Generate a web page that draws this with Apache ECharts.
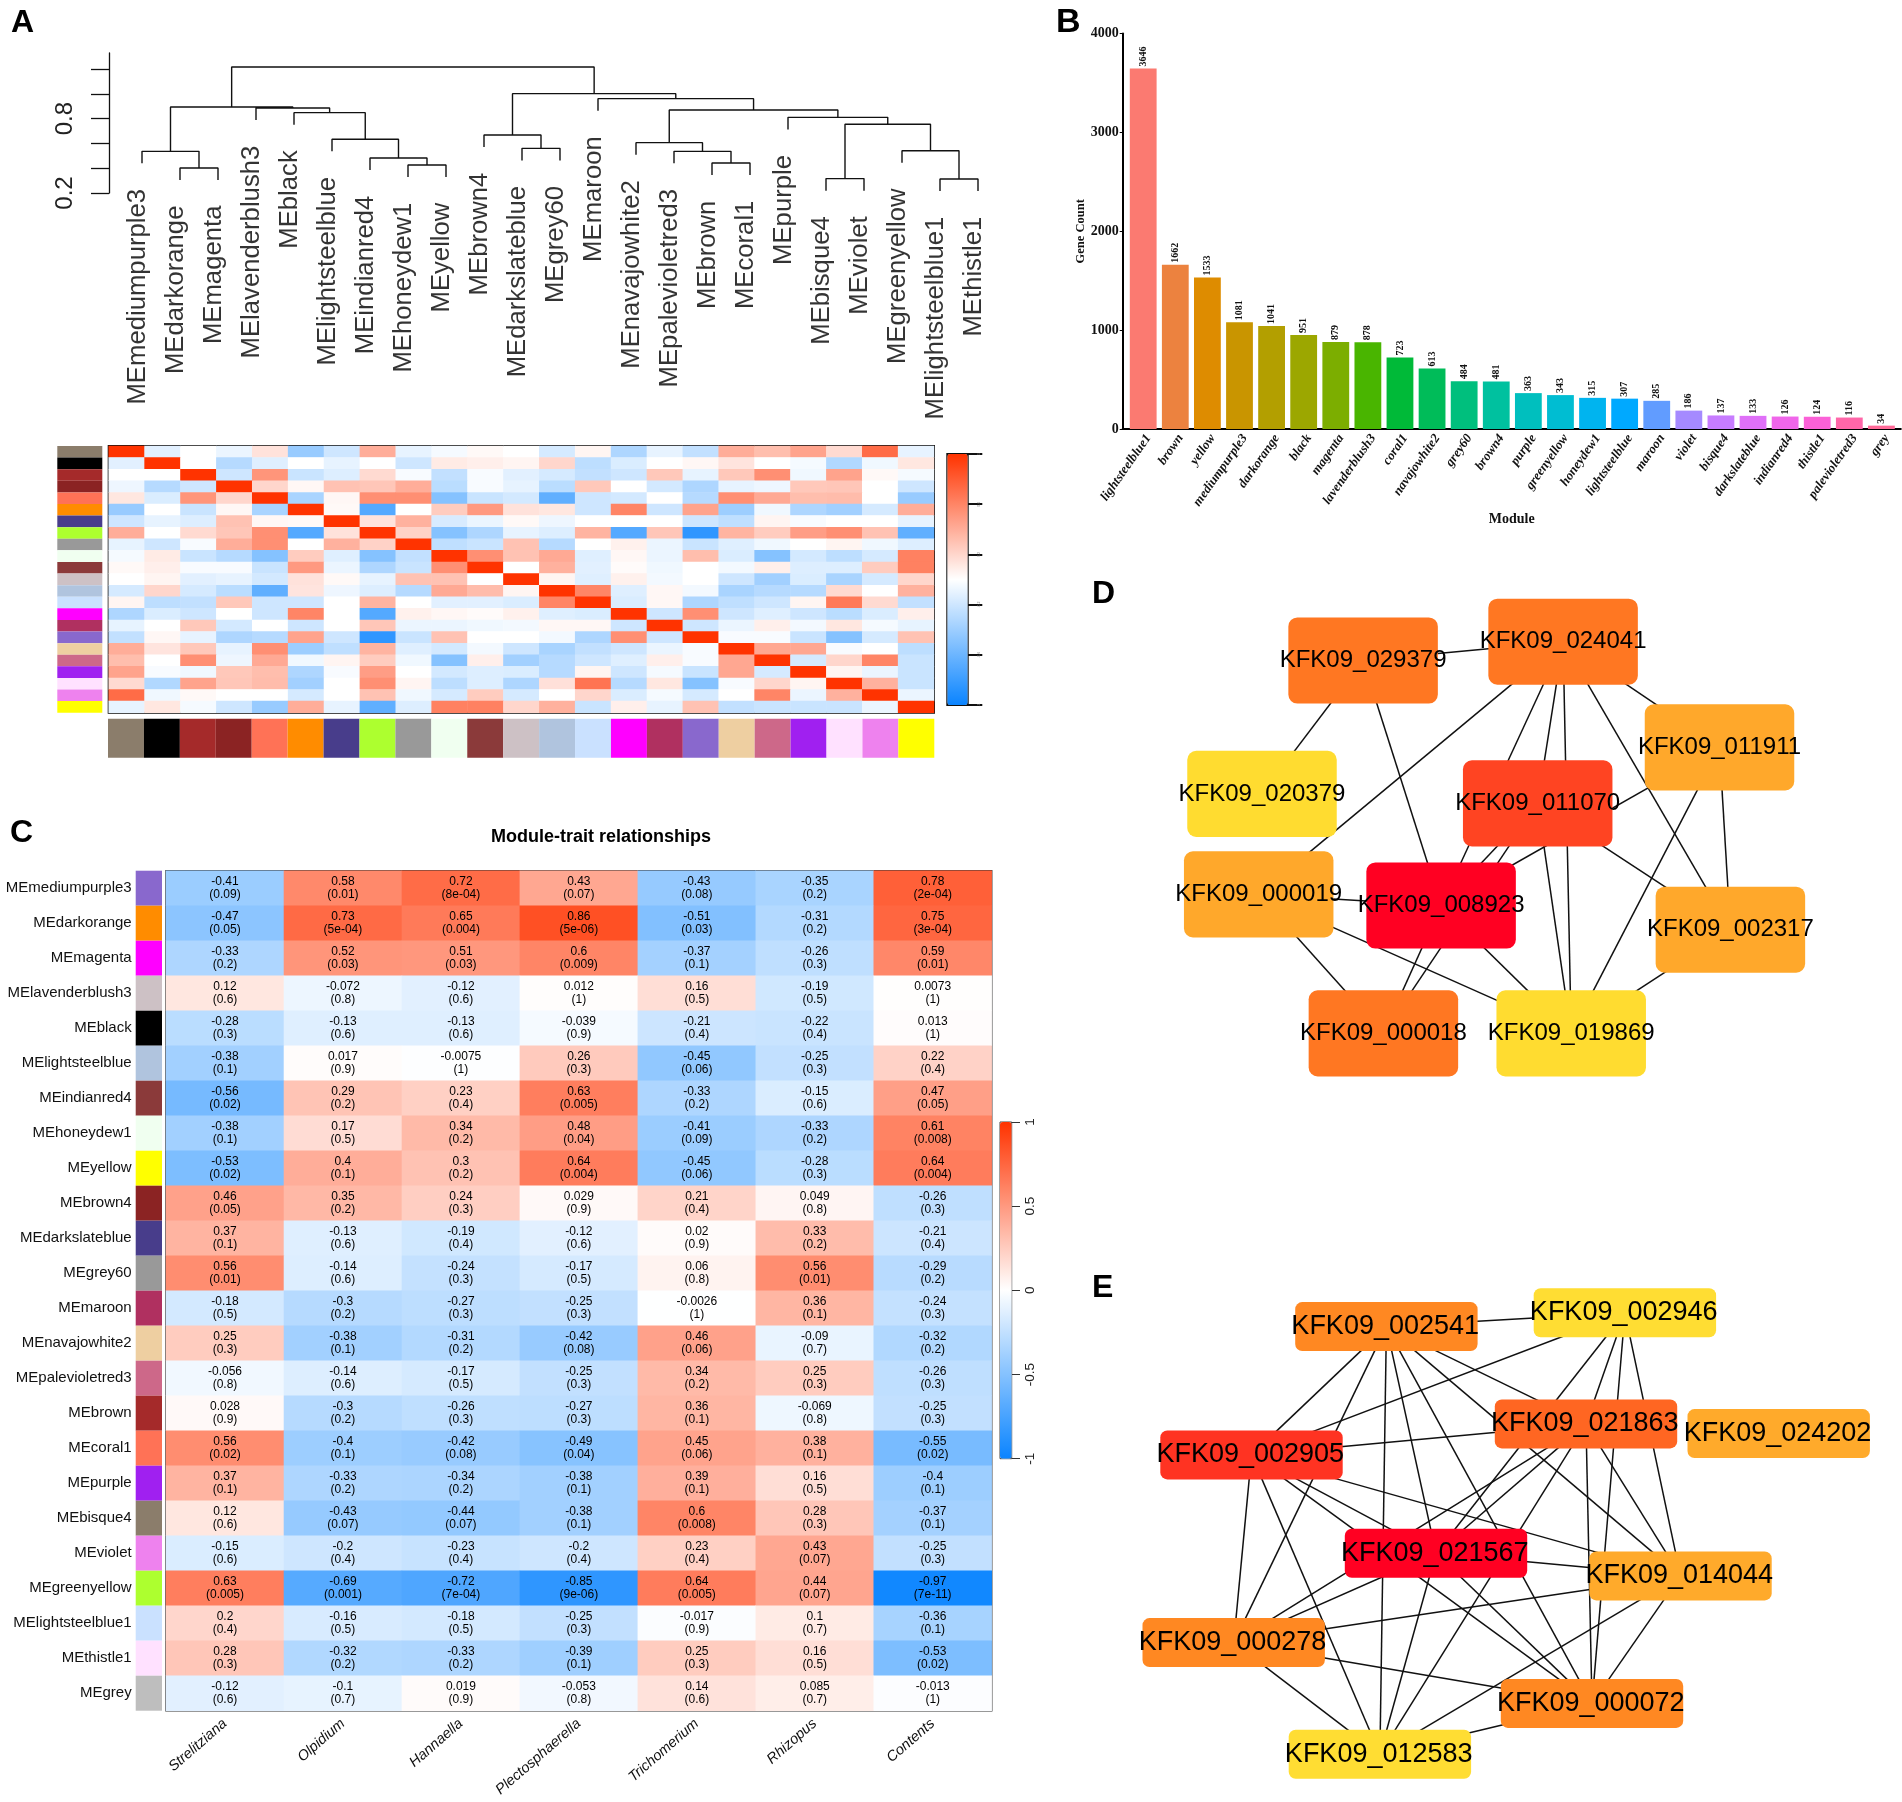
<!DOCTYPE html>
<html><head><meta charset="utf-8">
<style>html,body{margin:0;padding:0;background:#fff}#c{width:1902px;height:1802px}</style>
<script src="https://cdn.jsdelivr.net/npm/echarts@6/dist/echarts.min.js"></script>
</head><body><div id="c"></div>
<script>
// ---------- shared colours of module names
const moduleColor = {bisque4:'#8B7D6B',black:'#000000',brown:'#A52A2A',brown4:'#8B2323',coral1:'#FF7256',darkorange:'#FF8C00',darkslateblue:'#483D8B',greenyellow:'#ADFF2F',grey60:'#999999',honeydew1:'#F0FFF0',indianred4:'#8B3A3A',lavenderblush3:'#CDC1C5',lightsteelblue:'#B0C4DE',lightsteelblue1:'#CAE1FF',magenta:'#FF00FF',maroon:'#B03060',mediumpurple3:'#8968CD',navajowhite2:'#EECFA1',palevioletred3:'#CD6889',purple:'#A020F0',thistle1:'#FFE1FF',violet:'#EE82EE',yellow:'#FFFF00',grey:'#BEBEBE'};
const ramp = ['#0A84FF','#FFFFFF','#FF3300'];

// ---------- Panel A dendrogram
const leaves = ['mediumpurple3','darkorange','magenta','lavenderblush3','black','lightsteelblue','indianred4','honeydew1','yellow','brown4','darkslateblue','grey60','maroon','navajowhite2','palevioletred3','brown','coral1','purple','bisque4','violet','greenyellow','lightsteelblue1','thistle1'];
// [child, child, height]; a number is a leaf index, 'mN' is an earlier merge
const merges = [[1,2,.402],[0,'m0',.536],[7,8,.426],[6,'m2',.482],[5,'m3',.633],[4,'m4',.848],[3,'m5',.885],['m1','m6',.894],[10,11,.56],[9,'m8',.668],[15,16,.442],[14,'m10',.536],[13,'m11',.606],[18,19,.316],[21,22,.313],[20,'m14',.541],['m13','m15',.754],[17,'m16',.81],['m12','m17',.869],[12,'m18',.961],['m9','m19',1.001],['m7','m20',1.216]];
const leafHang = 0.097;
const dendroTicks = [0.2,0.4,0.6,0.8,1.0,1.2];
const dendroLabels = [0.2,0.8];

// ---------- Panel A correlation heatmap (alphabetical modules)
const adjModules = ['bisque4','black','brown','brown4','coral1','darkorange','darkslateblue','greenyellow','grey60','honeydew1','indianred4','lavenderblush3','lightsteelblue','lightsteelblue1','magenta','maroon','mediumpurple3','navajowhite2','palevioletred3','purple','thistle1','violet','yellow'];
const adjacency = [
[1,-.12,0,-.08,.14,-.42,-.2,.4,-.1,-.04,.03,0,-.17,.05,-.33,-.1,-.25,.4,.32,.45,.18,.72,-.1],
[-.12,1,0,-.3,-.13,0,-.1,0,-.2,.1,.08,.05,.2,-.27,-.15,0,.04,.13,0,-.04,-.32,-.06,.12],
[0,0,1,-.2,.52,-.22,-.14,.18,-.03,-.25,-.03,-.12,-.17,-.25,-.2,.27,-.1,.27,.55,-.06,.45,.03,-.04],
[-.07,-.3,-.2,1,.2,.04,.3,.28,.4,-.28,-.03,-.1,-.28,.27,0,-.18,-.33,-.1,-.07,.27,.28,0,-.2],
[.12,-.15,.52,.2,1,-.35,.04,.55,.55,-.5,-.22,-.18,-.65,-.2,-.18,0,-.3,.55,.42,.32,.33,0,-.42],
[-.42,0,-.22,.04,-.35,1,.03,-.7,0,.25,.5,.14,.12,-.2,.6,-.2,.45,-.4,-.06,-.33,-.38,-.17,.4],
[-.2,-.1,-.14,.3,.04,.03,1,.14,.38,-.16,-.08,.03,-.07,0,0,0,-.2,-.26,.05,-.03,0,0,-.1],
[.4,0,.18,.28,.55,-.7,.14,1,.22,-.5,-.33,-.1,-.14,.37,-.7,.28,-.85,.37,.25,.48,.55,.3,-.65],
[-.1,-.2,-.03,.4,.55,0,.38,.22,1,-.26,-.22,.3,-.3,0,.07,-.08,-.22,-.13,-.06,0,.05,-.06,-.14],
[-.04,.1,-.22,-.3,-.5,.25,-.13,-.5,-.25,1,.55,.3,.42,-.13,.04,-.08,.32,-.15,-.5,-.18,-.27,-.17,.62],
[.03,.08,-.03,-.03,-.22,.5,-.08,-.33,-.22,.55,1,0,.38,-.12,.02,-.06,0,-.05,.08,-.14,-.14,.25,.62],
[0,.05,-.12,-.1,-.18,.14,.03,-.1,.3,.3,0,1,.05,-.13,.07,-.05,0,-.2,-.38,-.15,-.35,-.17,.2],
[-.17,.2,-.17,-.28,-.65,.13,-.07,-.14,-.3,.42,.33,.05,1,.6,-.13,.04,-.05,-.35,-.3,-.3,.18,0,.38],
[.05,-.27,-.25,.27,-.2,-.2,0,.37,0,-.12,-.12,-.15,.6,1,-.15,.04,-.33,-.26,-.2,.05,.65,.18,-.25],
[-.33,-.15,-.2,0,-.2,.6,0,-.7,.07,.04,.02,.07,-.13,-.15,1,-.2,.55,-.2,-.13,-.2,-.28,-.15,.08],
[-.1,0,.27,-.18,0,-.2,0,.28,-.08,-.08,-.06,-.05,.04,.04,-.2,1,-.2,-.08,.08,-.05,.12,-.04,-.1],
[-.25,.04,-.1,-.33,-.3,.45,-.2,-.85,-.22,.3,0,0,-.05,-.33,.55,-.2,1,-.03,-.03,-.22,-.5,-.17,.3],
[.4,.13,.27,-.1,.55,-.4,-.26,.37,-.13,-.18,-.05,-.2,-.35,-.25,-.2,-.08,-.03,1,.43,.43,-.03,0,-.27],
[.32,0,.55,-.07,.42,-.06,.05,.25,-.06,-.5,.08,-.38,-.3,-.2,-.13,.08,-.03,.43,1,-.17,.2,.6,-.22],
[.45,-.03,-.06,.27,.32,-.33,-.03,.48,0,-.18,-.14,-.15,-.3,.05,-.2,-.04,-.22,.43,-.17,1,.05,-.08,-.22],
[.18,-.32,.45,.28,.33,-.38,0,.55,.05,-.27,-.14,-.33,.15,.68,-.3,.12,-.5,-.03,.2,.05,1,.38,-.22],
[.72,-.06,.03,0,0,-.17,0,.3,-.06,-.17,.25,-.17,0,.2,-.15,-.04,-.17,0,.6,-.08,.38,1,-.08],
[-.1,.12,-.04,-.2,-.42,.4,-.1,-.65,-.14,.62,.62,.2,.38,-.22,.08,-.1,.3,-.25,-.22,-.22,-.22,-.08,1]];
const adjBarLabels = ['-1','-0.6','-0.2','0.2','0.6','1'];

// ---------- Panel B
const geneModules = ['lightsteelblue1','brown','yellow','mediumpurple3','darkorange','black','magenta','lavenderblush3','coral1','navajowhite2','grey60','brown4','purple','greenyellow','honeydew1','lightsteelblue','maroon','violet','bisque4','darkslateblue','indianred4','thistle1','palevioletred3','grey'];
const geneCounts = [3646,1662,1533,1081,1041,951,879,878,723,613,484,481,363,343,315,307,285,186,137,133,126,124,116,34];
const geneBarColors = ['#FB7A71','#EC823F','#DE8C00','#C99500','#B39F00','#9CA700','#7CAE00','#49B500','#00BA38','#00BC59','#00BF7D','#00C19F','#00BFBE','#00BDD2','#00B4EF','#00A9FF','#619CFF','#A58AFF','#C77CFF','#DF70F8','#F066EA','#FB61D7','#FF66A8','#FF6A98'];

// ---------- Panel C
const traitRows = ['mediumpurple3','darkorange','magenta','lavenderblush3','black','lightsteelblue','indianred4','honeydew1','yellow','brown4','darkslateblue','grey60','maroon','navajowhite2','palevioletred3','brown','coral1','purple','bisque4','violet','greenyellow','lightsteelblue1','thistle1','grey'];
const traits = ['Strelitziana','Olpidium','Hannaella','Plectosphaerella','Trichomerium','Rhizopus','Contents'];
const traitCor = [
[-.41,.58,.72,.43,-.43,-.35,.78],[-.47,.73,.65,.86,-.51,-.31,.75],[-.33,.52,.51,.6,-.37,-.26,.59],[.12,-.072,-.12,.012,.16,-.19,.0073],
[-.28,-.13,-.13,-.039,-.21,-.22,.013],[-.38,.017,-.0075,.26,-.45,-.25,.22],[-.56,.29,.23,.63,-.33,-.15,.47],[-.38,.17,.34,.48,-.41,-.33,.61],
[-.53,.4,.3,.64,-.45,-.28,.64],[.46,.35,.24,.029,.21,.049,-.26],[.37,-.13,-.19,-.12,.02,.33,-.21],[.56,-.14,-.24,-.17,.06,.56,-.29],
[-.18,-.3,-.27,-.25,-.0026,.36,-.24],[.25,-.38,-.31,-.42,.46,-.09,-.32],[-.056,-.14,-.17,-.25,.34,.25,-.26],[.028,-.3,-.26,-.27,.36,-.069,-.25],
[.56,-.4,-.42,-.49,.45,.38,-.55],[.37,-.33,-.34,-.38,.39,.16,-.4],[.12,-.43,-.44,-.38,.6,.28,-.37],[-.15,-.2,-.23,-.2,.23,.43,-.25],
[.63,-.69,-.72,-.85,.64,.44,-.97],[.2,-.16,-.18,-.25,-.017,.1,-.36],[.28,-.32,-.33,-.39,.25,.16,-.53],[-.12,-.1,.019,-.053,.14,.085,-.013]];
const traitP = [
['0.09','0.01','8e-04','0.07','0.08','0.2','2e-04'],['0.05','5e-04','0.004','5e-06','0.03','0.2','3e-04'],['0.2','0.03','0.03','0.009','0.1','0.3','0.01'],['0.6','0.8','0.6','1','0.5','0.5','1'],
['0.3','0.6','0.6','0.9','0.4','0.4','1'],['0.1','0.9','1','0.3','0.06','0.3','0.4'],['0.02','0.2','0.4','0.005','0.2','0.6','0.05'],['0.1','0.5','0.2','0.04','0.09','0.2','0.008'],
['0.02','0.1','0.2','0.004','0.06','0.3','0.004'],['0.05','0.2','0.3','0.9','0.4','0.8','0.3'],['0.1','0.6','0.4','0.6','0.9','0.2','0.4'],['0.01','0.6','0.3','0.5','0.8','0.01','0.2'],
['0.5','0.2','0.3','0.3','1','0.1','0.3'],['0.3','0.1','0.2','0.08','0.06','0.7','0.2'],['0.8','0.6','0.5','0.3','0.2','0.3','0.3'],['0.9','0.2','0.3','0.3','0.1','0.8','0.3'],
['0.02','0.1','0.08','0.04','0.06','0.1','0.02'],['0.1','0.2','0.2','0.1','0.1','0.5','0.1'],['0.6','0.07','0.07','0.1','0.008','0.3','0.1'],['0.6','0.4','0.4','0.4','0.4','0.07','0.3'],
['0.005','0.001','7e-04','9e-06','0.005','0.07','7e-11'],['0.4','0.5','0.5','0.3','0.9','0.7','0.1'],['0.3','0.2','0.2','0.1','0.3','0.5','0.02'],['0.6','0.7','0.9','0.8','0.6','0.7','1']];

// ---------- Panels D and E (hub gene networks; x/y are layout units on hidden axes)
const dGenes = ['KFK09_029379','KFK09_024041','KFK09_011911','KFK09_020379','KFK09_011070','KFK09_000019','KFK09_008923','KFK09_002317','KFK09_000018','KFK09_019869'];
const dX = [304.6,504.6,661,203.5,479.2,200.2,382.6,671.9,324.9,512.7];
const dY = [100.5,81.7,187.4,233.9,243.4,334.4,345.5,369.7,473.4,473.4];
const dFill = ['#FF7722','#FF7722','#FFA82B','#FFDC30','#FF4422','#FFA82B','#FF0022','#FFA82B','#FF7722','#FFDC30'];
const dEdges = [[0,1],[0,3],[0,6],[1,5],[1,6],[1,4],[1,9],[1,7],[1,2],[2,6],[2,7],[2,9],[4,6],[4,8],[4,9],[4,7],[5,6],[5,8],[5,9],[6,8],[6,9],[7,9]];

const eGenes = ['KFK09_002541','KFK09_002946','KFK09_021863','KFK09_024202','KFK09_002905','KFK09_021567','KFK09_014044','KFK09_000278','KFK09_000072','KFK09_012583'];
const eX = [327.6,566.1,527.2,719.9,192.7,377.2,621.7,174.9,533.2,321.1];
const eY = [67.1,53.2,164.4,174.1,195.4,293.8,316.4,383.1,443.9,494.8];
const eFill = ['#FF8822','#FFDD33','#FF6622','#FFAA2B','#FF3322','#FF0022','#FFAA2B','#FF8822','#FF8822','#FFDD33'];
const eEdges = [[0,1],[0,4],[0,7],[0,9],[0,5],[0,8],[0,6],[0,2],[1,4],[1,5],[1,2],[1,8],[1,6],[2,4],[2,5],[2,7],[2,9],[2,8],[2,6],[4,7],[4,9],[4,5],[4,8],[4,6],[5,6],[5,7],[5,9],[5,8],[6,7],[6,9],[6,8],[7,8],[7,9],[8,9]];

// ---------- option assembly
const SANS = '"Liberation Sans", Arial, sans-serif', SERIF = '"Liberation Serif", "Times New Roman", serif';
const grids=[], xAxes=[], yAxes=[], series=[], visualMaps=[];
function addGrid(g,x,y){grids.push(Object.assign({containLabel:false},g));const i=grids.length-1;xAxes.push(Object.assign({gridIndex:i},x));yAxes.push(Object.assign({gridIndex:i},y));return i;}
const hidden={show:false};

// A dendrogram
const gDen=addGrid({left:142,top:53,width:836,height:140},
  {type:'value',min:0,max:22,show:false},
  {type:'value',min:0.2,max:1.329,position:'left',offset:33,splitLine:hidden,
   axisLine:{show:true,onZero:false,lineStyle:{color:'#111',width:1.3}},
   axisTick:{show:true,length:18,lineStyle:{color:'#111',width:1.3},customValues:dendroTicks},
   axisLabel:{show:true,customValues:dendroLabels,rotate:90,margin:32,fontSize:24,fontFamily:SANS,color:'#222',formatter:v=>v.toFixed(1)}});
const nodePos={},segs=[],leafEnd={};
merges.forEach((m,k)=>{const pos=c=>{if(typeof c==='number'){leafEnd[c]=m[2]-leafHang;return [c,m[2]-leafHang];}return nodePos[c];};
  const a=pos(m[0]),b=pos(m[1]);segs.push(a,[a[0],m[2]],[b[0],m[2]],b,[null,null]);nodePos['m'+k]=[(a[0]+b[0])/2,m[2]];});
series.push({type:'line',xAxisIndex:gDen,yAxisIndex:gDen,data:segs,showSymbol:false,connectNulls:false,clip:false,silent:true,lineStyle:{color:'#111',width:1.4},animation:false});
series.push({type:'scatter',xAxisIndex:gDen,yAxisIndex:gDen,symbolSize:0,clip:false,silent:true,animation:false,
  data:leaves.map((n,i)=>({value:[i,leafEnd[i]],name:'ME'+n})),
  label:{show:true,formatter:p=>p.name,position:'bottom',distance:25.6,rotate:90,align:'right',verticalAlign:'middle',offset:[0,-4],fontSize:25.7,fontFamily:SANS,color:'#000'}});

// A heatmap
const gAdj=addGrid({left:108.7,top:446,width:825.3,height:266.7,show:true,borderColor:'#111',borderWidth:2,backgroundColor:'transparent'},
  {type:'category',data:adjModules,show:false},{type:'category',data:adjModules,inverse:true,show:false});
const adjData=[];adjacency.forEach((r,ri)=>r.forEach((v,ci)=>adjData.push([ci,ri,v])));
series.push({type:'heatmap',xAxisIndex:gAdj,yAxisIndex:gAdj,data:adjData,silent:true,animation:false,progressive:0});
const adjSeriesIdx=series.length-1;
visualMaps.push({type:'continuous',min:-1,max:1,seriesIndex:adjSeriesIdx,inRange:{color:ramp},left:947.3,top:454,itemWidth:20.4,itemHeight:251,padding:0,showLabel:false,calculable:false,hoverLink:false,text:null});
// A strips
const gAdjL=addGrid({left:57.3,top:446,width:45,height:266.7},{type:'value',min:0,max:1,show:false},{type:'category',data:adjModules,inverse:true,show:false});
series.push({type:'bar',xAxisIndex:gAdjL,yAxisIndex:gAdjL,barWidth:'100%',silent:true,animation:false,data:adjModules.map(n=>({value:1,itemStyle:{color:moduleColor[n]}}))});
const gAdjB=addGrid({left:108,top:718.7,width:826.3,height:39},{type:'category',data:adjModules,show:false},{type:'value',min:0,max:1,show:false});
series.push({type:'bar',xAxisIndex:gAdjB,yAxisIndex:gAdjB,barWidth:'100%',silent:true,animation:false,data:adjModules.map(n=>({value:1,itemStyle:{color:moduleColor[n]}}))});
// A colour bar axis: steps of the bar's label list
addGrid({left:947.3,top:454,width:20.4,height:251,show:true,borderColor:'#111',borderWidth:2,backgroundColor:'transparent'},
  {type:'value',min:0,max:1,show:false},
  {type:'value',min:0,max:5,interval:1,position:'right',splitLine:hidden,axisLine:{show:false,onZero:false},
   axisTick:{show:true,length:14.6,lineStyle:{color:'#111',width:2}},
   axisLabel:{show:true,formatter:v=>adjBarLabels[v],rotate:90,margin:9,fontSize:3.5,color:'#777',fontFamily:SANS}});

// B bars
const gBar=addGrid({left:1122.7,top:33.6,width:778.1,height:395.4},
  {type:'value',min:-.639,max:23.604,splitLine:hidden,name:'Module',nameLocation:'middle',nameGap:79,nameTextStyle:{fontFamily:SERIF,fontWeight:'bold',fontSize:14,color:'#111'},
   axisLine:{show:true,onZero:false,lineStyle:{color:'#000',width:2}},axisTick:{show:false},
   axisLabel:{show:true,customValues:geneModules.map((_,i)=>i),formatter:v=>geneModules[v],rotate:55,margin:3,verticalAlign:'top',fontFamily:SERIF,fontWeight:'bold',fontStyle:'italic',fontSize:13,color:'#111'}},
  {type:'value',min:0,max:4000,interval:1000,splitLine:hidden,name:'Gene Count',nameLocation:'middle',nameGap:32,nameRotate:90,nameTextStyle:{fontFamily:SERIF,fontWeight:'bold',fontSize:12.5,color:'#111'},
   axisLine:{show:true,onZero:false,lineStyle:{color:'#000',width:2}},axisTick:{show:true,length:3,lineStyle:{color:'#000'}},
   axisLabel:{margin:4,formatter:v=>String(v),fontFamily:SERIF,fontWeight:'bold',fontSize:14,color:'#111'}});
series.push({type:'bar',xAxisIndex:gBar,yAxisIndex:gBar,barWidth:26.8,silent:true,animation:false,
  data:geneCounts.map((v,i)=>({value:[i,v],itemStyle:{color:geneBarColors[i]}})),
  label:{show:true,position:'top',distance:2,rotate:90,align:'left',verticalAlign:'middle',formatter:p=>p.value[1],fontFamily:SERIF,fontWeight:'bold',fontSize:10,color:'#111'}});

// C heatmap
const gTrait=addGrid({left:166,top:870.7,width:825.7,height:840,show:true,borderColor:'#333',borderWidth:1.5,backgroundColor:'transparent'},
  {type:'category',data:traits,splitLine:hidden,axisLine:{show:false},axisTick:{show:false},
   axisLabel:{interval:0,rotate:41,margin:11,fontStyle:'italic',fontSize:14.5,fontFamily:SANS,color:'#111'}},
  {type:'category',data:traitRows.map(n=>'ME'+n),inverse:true,splitLine:hidden,axisLine:{show:false},axisTick:{show:false},
   axisLabel:{interval:0,margin:34.3,fontSize:15,fontFamily:SANS,color:'#111'}});
const traitData=[];traitCor.forEach((r,ri)=>r.forEach((v,ci)=>traitData.push([ci,ri,v])));
series.push({type:'heatmap',xAxisIndex:gTrait,yAxisIndex:gTrait,data:traitData,silent:true,animation:false,progressive:0,
  label:{show:true,fontSize:12,lineHeight:13.7,fontFamily:SANS,color:'#000',textBorderWidth:0,formatter:p=>p.data[2]+'\n('+traitP[p.data[1]][p.data[0]]+')'}});
const traitSeriesIdx=series.length-1;
visualMaps.push({type:'continuous',min:-1,max:1,seriesIndex:traitSeriesIdx,inRange:{color:ramp},left:1000,top:1122,itemWidth:11.7,itemHeight:336.7,padding:0,showLabel:false,calculable:false,hoverLink:false,text:null});
const gTraitS=addGrid({left:135.7,top:870.7,width:26.3,height:840},{type:'value',min:0,max:1,show:false},{type:'category',data:traitRows,inverse:true,show:false});
series.push({type:'bar',xAxisIndex:gTraitS,yAxisIndex:gTraitS,barWidth:'100%',silent:true,animation:false,data:traitRows.map(n=>({value:1,itemStyle:{color:moduleColor[n]}}))});
addGrid({left:1000,top:1122,width:11.7,height:336.7,show:true,borderColor:'#444',borderWidth:1,backgroundColor:'transparent'},
  {type:'value',min:0,max:1,show:false},
  {type:'value',min:-1,max:1,interval:.5,position:'right',splitLine:hidden,axisLine:{show:false,onZero:false},
   axisTick:{show:true,length:8.3,lineStyle:{color:'#333',width:1}},
   axisLabel:{show:true,rotate:90,margin:12,fontSize:13.5,fontFamily:SANS,color:'#222'}});

// D / E networks
const roundedBox=(w,h,r)=>`path://M${r},0H${w-r}A${r},${r} 0 0 1 ${w},${r}V${h-r}A${r},${r} 0 0 1 ${w-r},${h}H${r}A${r},${r} 0 0 1 0,${h-r}V${r}A${r},${r} 0 0 1 ${r},0Z`;
function network(left,top,w,h,genes,xs,ys,fills,edges,nw,nh,fs,rad,lx){
  const g=addGrid({left:left,top:top,width:w,height:h},{type:'value',min:0,max:w,show:false},{type:'value',min:0,max:h,inverse:true,show:false});
  series.push({type:'graph',coordinateSystem:'cartesian2d',xAxisIndex:g,yAxisIndex:g,layout:'none',silent:true,animation:false,symbol:roundedBox(nw,nh,rad),symbolSize:[nw,nh],
    data:genes.map((n,i)=>({name:n,value:[xs[i],ys[i]],itemStyle:{color:fills[i]}})),
    links:edges.map(e=>({source:genes[e[0]],target:genes[e[1]]})),
    lineStyle:{color:'#111',width:1.5,opacity:1,curveness:0},
    label:{show:true,position:'inside',offset:[lx,0],formatter:p=>p.name,fontSize:fs,fontFamily:SANS,color:'#000',textBorderWidth:0,overflow:'none'}});
}
network(1058.5,560,842,560,dGenes,dX,dY,dFill,dEdges,149.5,86.1,24,9,0);
network(1058.8,1259.5,842,542,eGenes,eX,eY,eFill,eEdges,182.4,49,27,7,-1.2);

const letter=(t,x,y,fs)=>({text:t,left:x,top:y,padding:0,textStyle:{fontFamily:SANS,fontWeight:'bold',fontSize:fs||32,color:'#000'}});
const option={animation:false,backgroundColor:'#fff',
  title:[letter('A',11,7),letter('B',1056,6,34),letter('C',10,817),letter('D',1092,578.5),letter('E',1092,1272),
    {text:'Module-trait relationships',left:601,top:828,textAlign:'center',padding:0,textStyle:{fontFamily:SANS,fontWeight:'bold',fontSize:18,color:'#000'}}],
  grid:grids,xAxis:xAxes,yAxis:yAxes,visualMap:visualMaps,series:series};
const chart=echarts.init(document.getElementById('c'),null,{renderer:'canvas',width:1902,height:1802});
chart.setOption(option);
</script></body></html>
